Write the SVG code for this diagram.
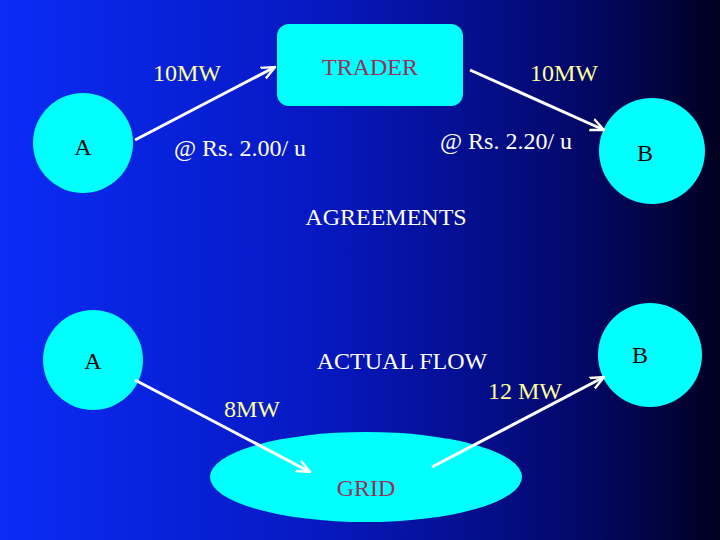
<svg xmlns="http://www.w3.org/2000/svg" width="720" height="540" viewBox="0 0 720 540">
<defs>
<linearGradient id="bg" x1="0" y1="0" x2="1" y2="0">
<stop offset="0" stop-color="#0a2cf6"/><stop offset="0.45" stop-color="#0618c0"/><stop offset="0.8" stop-color="#03086a"/><stop offset="1" stop-color="#000020"/>
</linearGradient>
<marker id="ah" viewBox="0 0 10 10" refX="9" refY="5" markerWidth="5" markerHeight="5" orient="auto"><path d="M0,1 L9,5 L0,9" fill="none" stroke="#fff" stroke-width="1.6"/></marker>
<style>
.n{fill:#00ffff}
text{font-family:"Liberation Serif",serif;font-size:24px}
.w{fill:#fff}.y{fill:#ffff99}.r{fill:#993355}.k{fill:#000}
.c{stroke:#fff;stroke-width:3;fill:none;marker-end:url(#ah)}
</style>
</defs>
<rect width="720" height="540" fill="url(#bg)"/>
<g id="trader"><rect class="n" x="277" y="24" width="186" height="82" rx="12"/><text class="r" x="370" y="75" text-anchor="middle">TRADER</text></g>
<g id="A1"><circle class="n" cx="83" cy="143" r="50"/><text class="k" x="83" y="155" text-anchor="middle">A</text></g>
<g id="B1"><circle class="n" cx="652" cy="151" r="53"/><text class="k" x="645" y="161" text-anchor="middle">B</text></g>
<g id="A2"><circle class="n" cx="93" cy="360" r="50"/><text class="k" x="93" y="369" text-anchor="middle">A</text></g>
<g id="B2"><circle class="n" cx="650" cy="355" r="52"/><text class="k" x="640" y="363" text-anchor="middle">B</text></g>
<g id="grid"><ellipse class="n" cx="366" cy="477" rx="156" ry="45"/><text class="r" x="366" y="496" text-anchor="middle">GRID</text></g>
<g id="connectors">
<line class="c" x1="135" y1="140" x2="275" y2="67"/>
<line class="c" x1="470" y1="70" x2="604" y2="130"/>
<line class="c" x1="135" y1="380" x2="310" y2="472"/>
<line class="c" x1="432" y1="467" x2="604" y2="377"/>
</g>
<text class="y" x="187" y="81" text-anchor="middle">10MW</text>
<text class="y" x="564" y="81" text-anchor="middle">10MW</text>
<text class="w" x="240" y="156" text-anchor="middle">@ Rs. 2.00/ u</text>
<text class="w" x="506" y="149" text-anchor="middle">@ Rs. 2.20/ u</text>
<text class="w" x="386" y="225" text-anchor="middle">AGREEMENTS</text>
<text class="w" x="402" y="369" text-anchor="middle">ACTUAL FLOW</text>
<text class="y" x="525" y="399" text-anchor="middle">12 MW</text>
<text class="y" x="252" y="417" text-anchor="middle">8MW</text>
</svg>
